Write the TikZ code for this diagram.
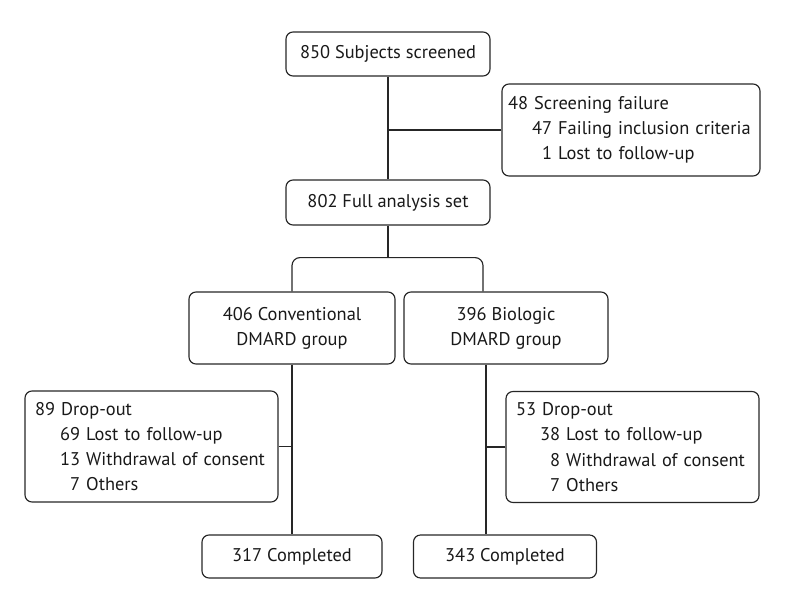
\documentclass[tikz,border=0pt]{standalone}
\usepackage{fontspec}
\setmainfont{PT Sans}
\usetikzlibrary{calc,positioning}
\tikzstyle{int}=[draw=black!85,line width=1.15pt,rounded corners=7pt,text=black!90,align=center,font=\fontsize{18.4}{25.2}\selectfont]
\tikzstyle{lst}=[int,align=left,inner ysep=0pt]
\tikzstyle{con}=[draw=black!85,line width=1.15pt]

\begin{document}
\begin{tikzpicture}[
      x=1pt,y=-1pt,
      auto
    ]
      \useasboundingbox (0,0) rectangle (793,589);
      \node [int,minimum width=204pt,minimum height=44pt] (kp) at (388,54) {850 Subjects screened};
      \node [int,minimum width=204pt,minimum height=45pt] (kp2) [node distance=148.5pt,below of=kp] {802 Full analysis set};
      \node [lst,text width=246pt,inner xsep=6pt,minimum height=92pt] (kp1) at ($(kp)+(243,76)$) {48 Screening failure\\
        \hspace*{24pt}47 Failing inclusion criteria\\
        \hspace*{24pt}\phantom{4}1 Lost to follow-up};

      \node [int,minimum width=206pt,minimum height=72pt] (kp3) at ($(kp2)+(-96,125.5)$) {406 Conventional\\DMARD group};
      \node [int,minimum width=204pt,minimum height=72pt] (kp4) [node distance=214pt,right of=kp3] {396 Biologic\\DMARD group};

      \node [lst,text width=233pt,inner xsep=10pt,minimum height=111pt] (kp5) at ($(kp3)+(-140.5,118.5)$) {89 Drop-out\\
        \hspace*{25pt}69 Lost to follow-up\\
        \hspace*{25pt}13 Withdrawal of consent\\
        \hspace*{25pt}\phantom{1}7 Others};
      \node [lst,text width=233pt,inner xsep=10pt,minimum height=111pt] (kp7) at ($(kp4)+(126.5,119)$) {53 Drop-out\\
        \hspace*{24pt}38 Lost to follow-up\\
        \hspace*{24pt}\phantom{3}8 Withdrawal of consent\\
        \hspace*{24pt}\phantom{3}7 Others};

      \node [int,minimum width=180pt,minimum height=43pt] (kp6) [node distance=228.5pt,below of=kp3] {317 Completed};
      \node [int,minimum width=183pt,minimum height=43pt] (kp8) [node distance=213pt,right of=kp6] {343 Completed};

      \coordinate (split) at ($(kp2.south)+(0,32)$);
      \coordinate (bE) at ($(kp4.north)+(-23,0)$);
      \coordinate (tE) at ($(kp4.south)+(-20,0)$);

      \draw[con] (kp) -- (kp2);
      \draw[con] (kp1.west) -- (kp1.west -| kp.south);
      \draw[con] (kp2.south) -- (split);
      \draw[con,rounded corners=8pt] (kp3.north) |- (split) -| (bE);
      \draw[con] (kp3.south) -- (kp6.north);
      \draw[con] (kp5.east) -- (kp5.east -| kp3.south);
      \draw[con] (tE) -- (tE |- kp8.north);
      \draw[con] (kp7.west) -- (kp7.west -| tE);
    \end{tikzpicture}
\end{document}
